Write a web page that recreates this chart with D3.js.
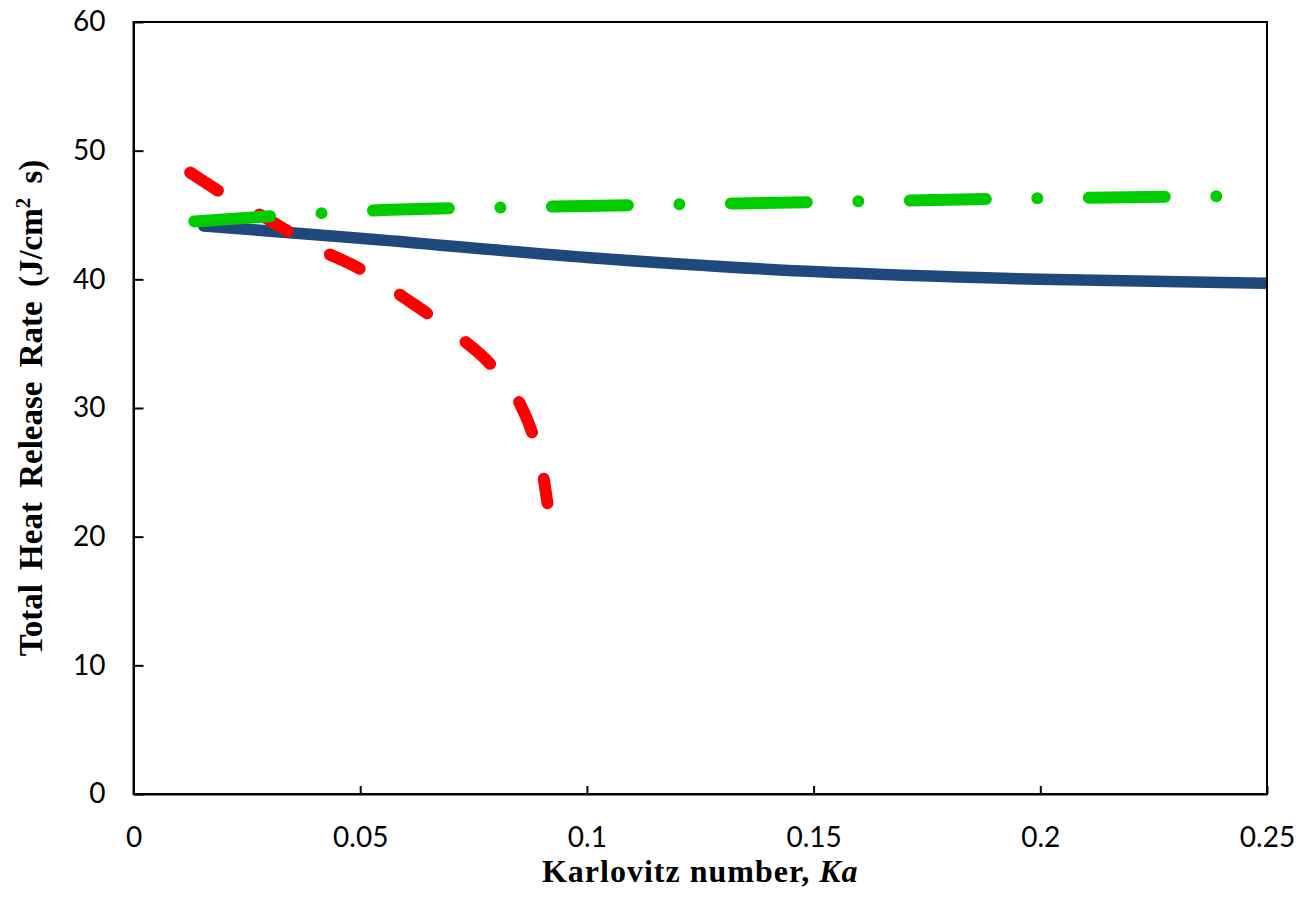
<!DOCTYPE html>
<html>
<head>
<meta charset="utf-8">
<script src="https://cdn.jsdelivr.net/npm/d3@7"></script>
<style>
  body { margin: 0; background: #fff; }
  .tick-label { font-family: Lato, "Open Sans", sans-serif; font-size: 28px; fill: #000; }
  .axis-title { font-family: "Liberation Serif", "Times New Roman", serif; font-weight: bold; fill: #000; }
</style>
</head>
<body>
<div id="chart"></div>
<script>
"use strict";
var WIDTH = 1310;
var HEIGHT = 905;
var MARGIN = { left: 133.5, top: 22, right: 43, bottom: 111 };

// axis ticks
var X_TICKS = [0, 0.05, 0.1, 0.15, 0.2, 0.25];
var X_TICK_LABELS = ["0", "0.05", "0.1", "0.15", "0.2", "0.25"];
var Y_TICKS = [0, 10, 20, 30, 40, 50, 60];

// solid blue curve
var blueKa = [0.0155, 0.05, 0.1, 0.15, 0.2, 0.25];
var blueHrr = [44.15, 43.2, 41.7, 40.6, 40.0, 39.7];

// red dashed curve
var redKa = [0.0125, 0.02, 0.03, 0.04, 0.05, 0.06, 0.07, 0.08, 0.085, 0.088, 0.09, 0.0913];
var redHrr = [48.3, 46.6, 44.6, 42.5, 40.8, 38.5, 36.0, 32.9, 30.5, 28.0, 25.5, 22.6];

// green dash-dot curve
var greenKa = [0.0134, 0.03, 0.05, 0.1, 0.15, 0.2, 0.25];
var greenHrr = [44.5, 44.9, 45.3, 45.7, 46.0, 46.3, 46.5];

var plotW = WIDTH - MARGIN.left - MARGIN.right;
var plotH = HEIGHT - MARGIN.top - MARGIN.bottom;

var x = d3.scaleLinear().domain([0, 0.25]).range([0, plotW]);
var y = d3.scaleLinear().domain([0, 60]).range([plotH, 0]);

function zipSeries(ka, hrr) {
    var pts = [];
    for (var i = 0; i < ka.length; i++) {
        pts.push([ka[i], hrr[i]]);
    }
    return pts;
}

var line = d3.line()
    .x(function (d) { return x(d[0]); })
    .y(function (d) { return y(d[1]); })
    .curve(d3.curveMonotoneX);

function drawAxes(g) {
    // frame
    g.append("rect")
        .attr("x", 0).attr("y", 0)
        .attr("width", plotW).attr("height", plotH)
        .attr("fill", "none")
        .attr("stroke", "#000")
        .attr("stroke-width", 2);

    var xAxis = d3.axisBottom(x)
        .tickValues(X_TICKS)
        .tickSizeInner(-8)
        .tickSizeOuter(0)
        .tickPadding(33)
        .tickFormat(function (d, i) { return X_TICK_LABELS[i]; });
    var gx = g.append("g")
        .attr("transform", "translate(0," + plotH + ")")
        .call(xAxis);
    gx.select(".domain").attr("stroke-width", 2);
    gx.selectAll(".tick line").attr("stroke-width", 2);
    gx.selectAll(".tick text").attr("class", "tick-label").attr("font-family", null).attr("font-size", null);

    var yAxis = d3.axisLeft(y)
        .tickValues(Y_TICKS)
        .tickSizeInner(-10)
        .tickSizeOuter(0)
        .tickPadding(28);
    var gy = g.append("g").call(yAxis);
    gy.select(".domain").attr("stroke-width", 2);
    gy.selectAll(".tick line").attr("stroke-width", 2);
    gy.selectAll(".tick text").attr("class", "tick-label").attr("font-family", null).attr("font-size", null);
}

function drawSeries(g) {
    var clip = g.append("clipPath").attr("id", "plot-clip");
    clip.append("rect").attr("x", 0).attr("y", 0).attr("width", plotW).attr("height", plotH);
    var series = g.append("g").attr("clip-path", "url(#plot-clip)");

    series.append("path")
        .datum(zipSeries(blueKa, blueHrr))
        .attr("d", line)
        .attr("fill", "none")
        .attr("stroke", "#1F497D")
        .attr("stroke-width", 11.5)
        .attr("stroke-linecap", "round");

    series.append("path")
        .datum(zipSeries(redKa, redHrr))
        .attr("d", line)
        .attr("fill", "none")
        .attr("stroke", "#FF0000")
        .attr("stroke-width", 12)
        .attr("stroke-linecap", "round")
        .attr("stroke-dasharray", "33,48");

    series.append("path")
        .datum(zipSeries(greenKa, greenHrr))
        .attr("d", line)
        .attr("fill", "none")
        .attr("stroke", "#00CC00")
        .attr("stroke-width", 12)
        .attr("stroke-linecap", "round")
        .attr("stroke-dasharray", "76,51.5,0,51.5");
}

function drawTitles(svg) {
    var xt = svg.append("text")
        .attr("class", "axis-title")
        .attr("font-size", "32px")
        .attr("letter-spacing", "1px")
        .attr("x", MARGIN.left + plotW / 2)
        .attr("y", 882)
        .attr("text-anchor", "middle");
    xt.append("tspan").text("Karlovitz number, ");
    xt.append("tspan").attr("font-style", "italic").text("Ka");

    var yt = svg.append("text")
        .attr("class", "axis-title")
        .attr("font-size", "33px")
        .attr("word-spacing", "6px")
        .attr("transform", "translate(42," + (MARGIN.top + plotH / 2) + ") rotate(-90)")
        .attr("text-anchor", "middle");
    yt.append("tspan").text("Total Heat Release Rate (J/cm");
    yt.append("tspan").attr("font-size", "21px").attr("dy", -12).text("2");
    yt.append("tspan").attr("dy", 12).text(" s)");
}

function drawChart() {
    var svg = d3.select("#chart").append("svg")
        .attr("width", WIDTH)
        .attr("height", HEIGHT);
    var g = svg.append("g")
        .attr("transform", "translate(" + MARGIN.left + "," + MARGIN.top + ")");
    drawSeries(g);
    drawAxes(g);
    drawTitles(svg);
}
drawChart();
</script>
</body>
</html>
